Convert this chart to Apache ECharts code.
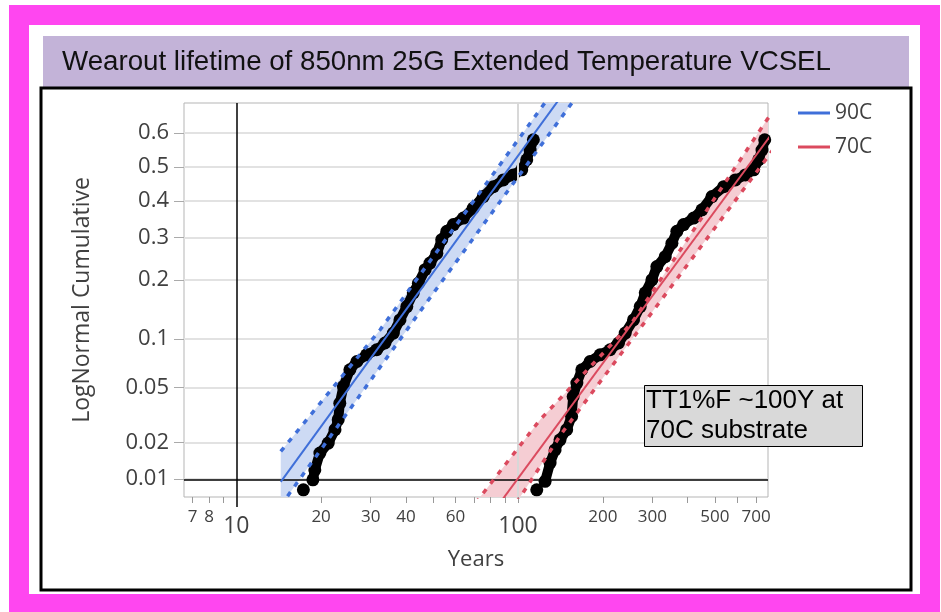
<!DOCTYPE html>
<html>
<head>
<meta charset="utf-8">
<title>Wearout lifetime VCSEL</title>
<script src="https://cdn.jsdelivr.net/npm/echarts@6/dist/echarts.min.js"></script>
<style>
  html, body { margin: 0; padding: 0; background: #fff; }
  #chart { width: 941px; height: 612px; }
</style>
</head>
<body>
<div id="chart"></div>
<script>
// observed failures, [years, cumulative fraction]
const obs90 = [
  [17.3, 0.0080], [18.7, 0.0098], [19.0, 0.0119], [19.8, 0.0164], [21.2, 0.0197],
  [22.4, 0.0250], [23.0, 0.0297], [23.3, 0.0390], [24.0, 0.0508], [25.3, 0.0652],
  [26.8, 0.0734], [29.0, 0.0806], [31.5, 0.0864], [33.7, 0.0946], [36.1, 0.1077],
  [38.1, 0.127], [40.3, 0.149], [42.5, 0.174], [44.3, 0.193], [46.8, 0.222],
  [48.7, 0.237], [51.5, 0.260], [53.6, 0.294], [55.9, 0.316], [59.0, 0.334],
  [64.0, 0.352], [69.4, 0.380], [75.3, 0.413], [81.8, 0.442], [88.7, 0.462],
  [96.3, 0.477], [103.1, 0.492], [107.4, 0.522], [110.4, 0.551], [113.4, 0.581]
];
const obs70 = [
  [116.6, 0.0080], [124.8, 0.0095], [130.0, 0.0136], [135.4, 0.0174], [141.0, 0.0209],
  [148.9, 0.0250], [155.0, 0.0314], [157.0, 0.0434], [161.8, 0.0535], [168.5, 0.0652],
  [180.3, 0.0734], [195.7, 0.0806], [212.3, 0.0864], [227.5, 0.0946], [240.3, 0.1077],
  [257.1, 0.127], [271.6, 0.149], [283.0, 0.174], [298.8, 0.200], [311.2, 0.229],
  [333.2, 0.252], [351.9, 0.285], [366.4, 0.316], [387.3, 0.334], [420.2, 0.352],
  [449.8, 0.375], [488.3, 0.413], [537.5, 0.442], [591.2, 0.462], [641.6, 0.477],
  [686.6, 0.492], [715.2, 0.522], [735.1, 0.551], [751.6, 0.581]
];

// lognormal fit lines and confidence bounds
const fit90 = [[14.38, 0.0094], [142, 0.70]];
const fit70 = [[81.6, 0.005], [995, 0.70]];
const upper90 = [[14.38, 0.0169], [32.4, 0.1124], [129.1, 0.70]];
const lower90 = [[14.38, 0.0057], [15.48, 0.0075], [44.9, 0.1406], [149.1, 0.6655], [161, 0.70]];
const upper70 = [[66.7, 0.005], [119.8, 0.0297], [253.3, 0.1222], [765, 0.638], [1004, 0.752]];
const lower70 = [[93.2, 0.005], [103.2, 0.00725], [143, 0.0235], [280.2, 0.1222], [766, 0.5277], [1004, 0.6596]];

// axes
const yTicks = [0.01, 0.02, 0.05, 0.1, 0.2, 0.3, 0.4, 0.5, 0.6];
const xTicks = [7, 8, 9, 20, 30, 40, 50, 60, 70, 80, 90, 100, 200, 300, 400, 500, 600, 700];
const xSmallLabels = [7, 8, 20, 30, 40, 60, 200, 300, 500, 700];
const xBigLabels = [10, 100];
const X_MIN = 6.52, X_MAX = 772;
const P_MIN = 0.0069, P_MAX = 0.684;

const BLUE = '#3f6fd9';
const RED = '#db4a5e';
const TXT = '#404040';
const FONT = 'Open Sans';

// inverse normal cdf (Acklam), used for the probability scale
function probit(p) {
  const a = [-39.69683028665376, 220.9460984245205, -275.9285104469687, 138.3577518672690, -30.66479806614716, 2.506628277459239];
  const b = [-54.47609879822406, 161.5858368580409, -155.6989798598866, 66.80131188771972, -13.28068155288572];
  const c = [-0.007784894002430293, -0.3223964580411365, -2.400758277161838, -2.549732539343734, 4.374664141464968, 2.938163982698783];
  const d = [0.007784695709041462, 0.3224671290700398, 2.445134137142996, 3.754408661907416];
  const pl = 0.02425;
  let q, r;
  if (p < pl) {
    q = Math.sqrt(-2 * Math.log(p));
    return (((((c[0] * q + c[1]) * q + c[2]) * q + c[3]) * q + c[4]) * q + c[5]) /
      ((((d[0] * q + d[1]) * q + d[2]) * q + d[3]) * q + 1);
  }
  if (p > 1 - pl) {
    q = Math.sqrt(-2 * Math.log(1 - p));
    return -(((((c[0] * q + c[1]) * q + c[2]) * q + c[3]) * q + c[4]) * q + c[5]) /
      ((((d[0] * q + d[1]) * q + d[2]) * q + d[3]) * q + 1);
  }
  q = p - 0.5; r = q * q;
  return (((((a[0] * r + a[1]) * r + a[2]) * r + a[3]) * r + a[4]) * r + a[5]) * q /
    (((((b[0] * r + b[1]) * r + b[2]) * r + b[3]) * r + b[4]) * r + 1);
}
const toXY = arr => arr.map(([x, p]) => [x, probit(p)]);
const yTickPos = yTicks.map(probit);

function band(upper, lower, color) {
  const poly = toXY(upper.concat(lower.slice().reverse()));
  return {
    type: 'custom', clip: true, silent: true, z: 1,
    data: [[10, 0]],
    renderItem: (params, api) => ({
      type: 'polygon',
      shape: { points: poly.map(pt => api.coord(pt)) },
      style: { fill: color }
    })
  };
}
function bound(data, color) {
  return {
    type: 'line', data: toXY(data), symbol: 'none', silent: true, z: 6,
    lineStyle: { color: color, width: 3.5, type: [5, 7] }
  };
}
function fitLine(name, data, color) {
  return {
    name: name, type: 'line', data: toXY(data), symbol: 'none', z: 5,
    itemStyle: { color: color },
    lineStyle: { color: color, width: 2 }
  };
}
function obsLine(data) {
  return {
    type: 'line', data: toXY(data.slice(1)), symbol: 'none', silent: true, z: 3,
    lineStyle: { color: '#000', width: 10, cap: 'round', join: 'round' }
  };
}
function obsDots(data) {
  return {
    type: 'scatter', data: toXY(data), symbolSize: 13, silent: true, z: 3,
    itemStyle: { color: '#000', opacity: 1 }
  };
}

const chart = echarts.init(document.getElementById('chart'));
chart.setOption({
  animation: false,
  backgroundColor: '#fff',
  title: {
    text: 'Wearout lifetime of 850nm 25G Extended Temperature VCSEL',
    left: 62, top: 47, padding: 0,
    textStyle: { fontFamily: 'Liberation Sans', fontSize: 27.7, fontWeight: 'normal', color: '#111', lineHeight: 30 }
  },
  legend: {
    data: ['90C', '70C'],
    orient: 'vertical', left: 793, top: 97,
    icon: 'rect', itemWidth: 32, itemHeight: 3, itemGap: 12,
    textStyle: { fontFamily: FONT, fontSize: 21, color: TXT, lineHeight: 22 }
  },
  grid: { left: 184, right: 173, top: 103, bottom: 115, show: true, borderColor: '#b5b5b5', borderWidth: 1 },
  xAxis: [{
    type: 'log', min: X_MIN, max: X_MAX,
    name: 'Years', nameLocation: 'middle', nameGap: 52,
    nameTextStyle: { fontFamily: FONT, fontSize: 22, color: TXT },
    axisLine: { show: false, onZero: false },
    axisTick: { show: true, customValues: xTicks, length: 6, lineStyle: { color: '#999' } },
    axisLabel: { customValues: xSmallLabels, fontFamily: FONT, fontSize: 17, color: TXT, margin: 12 },
    splitLine: { show: false }
  }, {
    type: 'log', min: X_MIN, max: X_MAX, position: 'bottom',
    axisLine: { show: false, onZero: false },
    axisTick: { show: true, customValues: [10], length: 10, lineStyle: { color: '#000', width: 1.5 } },
    axisLabel: { customValues: xBigLabels, fontFamily: FONT, fontSize: 23, color: TXT, margin: 18 },
    splitLine: { show: false }
  }],
  yAxis: {
    type: 'value', min: probit(P_MIN), max: probit(P_MAX),
    name: 'LogNormal Cumulative', nameLocation: 'middle', nameGap: 90,
    nameTextStyle: { fontFamily: FONT, fontSize: 23, color: TXT },
    axisLine: { show: false },
    axisTick: { show: true, customValues: yTickPos, length: 10, lineStyle: { color: '#aaa' } },
    axisLabel: {
      customValues: yTickPos, fontFamily: FONT, fontSize: 22, color: TXT, margin: 15,
      formatter: v => {
        const i = yTickPos.findIndex(t => Math.abs(t - v) < 1e-6);
        return i < 0 ? '' : String(yTicks[i]);
      }
    },
    splitLine: { show: true, lineStyle: { color: '#e2e2e2', width: 2 } }
  },
  series: [
    band(upper90, lower90, '#cddaf4'),
    band(upper70, lower70, '#f5cdd3'),
    {
      type: 'line', data: [], silent: true, z: 2,
      markLine: {
        silent: true, symbol: 'none', label: { show: false },
        data: [
          { xAxis: 100, lineStyle: { color: '#d8d8d8', width: 2, type: 'solid' } },
          { xAxis: 10, lineStyle: { color: '#000', width: 1.5, type: 'solid' } },
          { yAxis: probit(0.01), lineStyle: { color: '#000', width: 1.5, type: 'solid' } }
        ]
      }
    },
    obsLine(obs90), obsDots(obs90),
    obsLine(obs70), obsDots(obs70),
    fitLine('90C', fit90, BLUE),
    fitLine('70C', fit70, RED),
    bound(upper90, BLUE), bound(lower90, BLUE),
    bound(upper70, RED), bound(lower70, RED)
  ],
  graphic: [
    { type: 'rect', z: 0, shape: { x: 19, y: 15, width: 911, height: 589 },
      style: { fill: 'none', stroke: '#ff46f0', lineWidth: 20 } },
    { type: 'rect', z: 0, shape: { x: 43, y: 36, width: 866, height: 51 },
      style: { fill: '#c3b3d8' } },
    { type: 'rect', z: 0, shape: { x: 41, y: 88, width: 870, height: 502 },
      style: { fill: 'none', stroke: '#000', lineWidth: 3 } },
    { type: 'group', z: 100, children: [
      { type: 'rect', z: 100, shape: { x: 644.5, y: 385.5, width: 218, height: 61 },
        style: { fill: '#d9d9d9', stroke: '#000', lineWidth: 1 } },
      { type: 'text', z: 101, x: 646, y: 386,
        style: { text: 'TT1%F ~100Y at\n70C substrate', fill: '#000',
          font: '26px "Liberation Sans"', lineHeight: 30 } }
    ] }
  ]
});
window.onresize = function () { chart.resize(); };
</script>
</body>
</html>
